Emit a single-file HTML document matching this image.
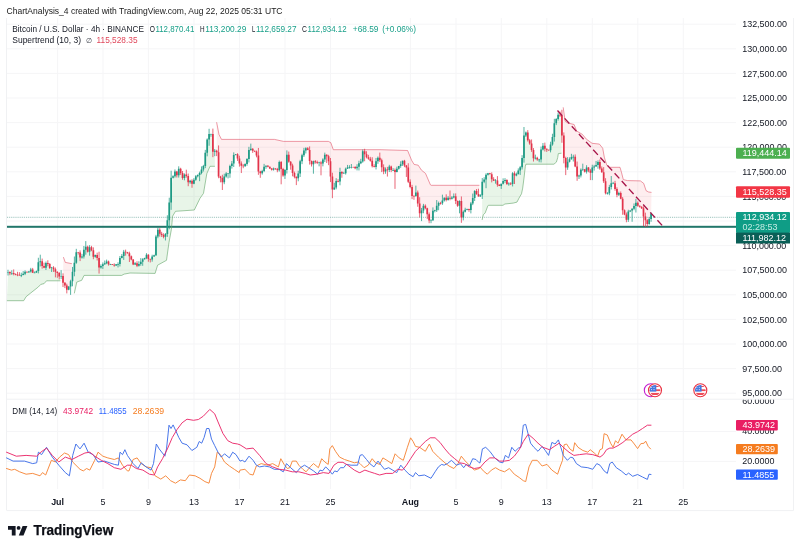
<!DOCTYPE html>
<html lang="en"><head><meta charset="utf-8"><title>BTCUSD chart</title>
<style>html,body{margin:0;padding:0;background:#fff;}body{width:800px;height:551px;overflow:hidden;position:relative;}</style></head>
<body>
<svg width="800" height="551" viewBox="0 0 800 551" style="position:absolute;left:0;top:0;display:block">
<rect x="0" y="0" width="800" height="551" fill="#ffffff"/>
<path d="M57.6 18V489M103.0 18V489M148.4 18V489M194.0 18V489M239.5 18V489M285.0 18V489M330.5 18V489M410.4 18V489M456.0 18V489M501.3 18V489M546.8 18V489M592.3 18V489M637.8 18V489M683.3 18V489M7 393.2H736M7 368.6H736M7 344.0H736M7 319.4H736M7 294.8H736M7 270.2H736M7 245.6H736M7 221.0H736M7 196.4H736M7 171.8H736M7 147.2H736M7 122.6H736M7 98.0H736M7 73.4H736M7 48.8H736M7 24.2H736M7 461.4H736M7 431.5H736" stroke="#f5f5f7" stroke-width="1" fill="none"/>
<path d="M7 399.2H793.5M7 510.6H793.5M793.5 18V510.6M6.5 18V510.6" stroke="#f0f1f3" stroke-width="1" fill="none"/>
<path d="M6.9 300.7 L23.7 300.7 L26.1 296.7 L30.2 293.4 L38.4 286.9 L40.8 284.4 L44.1 283.6 L46.5 280.8 L60.4 280.8 L59.2 275.3 L57.3 273.5 L55.4 271.4 L53.5 268.7 L51.6 268.6 L49.7 266.1 L47.8 263.4 L45.9 265.5 L44.0 266.2 L42.1 263.7 L40.2 261.2 L38.4 266.1 L36.5 271.8 L34.6 272.4 L32.7 270.8 L30.8 270.4 L28.9 271.8 L27.0 272.0 L25.1 272.7 L23.2 273.8 L21.3 275.0 L19.4 274.5 L17.5 274.4 L15.6 274.4 L13.7 273.0 L11.8 272.8 L9.9 272.9 L8.0 272.4Z" fill="rgba(76,175,80,0.13)" stroke="none"/>
<path d="M63.4 257.1 L65.3 262.4 L71.9 263.7 L70.6 285.6 L68.7 288.2 L66.8 288.1 L64.9 284.6 L63.0 279.8Z" fill="rgba(242,54,69,0.085)" stroke="none"/>
<path d="M74.3 293.4 L76.8 282.0 L81.7 280.3 L84.1 275.4 L121.7 275.4 L124.1 274.1 L130.0 273.0 L155.1 273.4 L157.6 265.2 L166.5 260.3 L169.0 242.4 L171.4 229.3 L172.6 216.2 L175.5 211.3 L194.3 210.0 L200.0 198.3 L203.5 193.3 L206.8 173.7 L210.0 166.3 L214.9 166.3 L214.8 151.9 L212.9 142.9 L211.0 134.6 L209.1 137.0 L207.2 146.7 L205.3 159.2 L203.4 168.0 L201.5 170.8 L199.6 175.2 L197.7 175.8 L195.8 178.0 L193.9 181.4 L192.0 182.9 L190.1 181.7 L188.2 179.5 L186.3 174.4 L184.4 176.5 L182.5 175.4 L180.6 171.1 L178.7 172.0 L176.8 173.8 L174.9 173.7 L173.0 176.9 L171.1 190.1 L169.2 212.4 L167.3 226.6 L165.5 236.0 L163.6 235.8 L161.7 234.4 L159.8 232.1 L157.9 233.0 L156.0 245.7 L154.1 255.9 L152.2 258.1 L150.3 259.8 L148.4 257.4 L146.5 256.3 L144.6 258.6 L142.7 261.2 L140.8 262.4 L138.9 264.4 L137.0 264.4 L135.1 263.7 L133.2 262.0 L131.3 257.9 L129.4 255.7 L127.5 252.7 L125.6 252.3 L123.7 254.3 L121.8 256.6 L119.9 261.1 L118.0 264.5 L116.1 264.9 L114.2 265.0 L112.3 264.5 L110.4 264.3 L108.5 263.0 L106.6 262.2 L104.7 263.3 L102.8 265.5 L101.0 266.7 L99.1 262.7 L97.2 256.5 L95.3 256.0 L93.4 253.4 L91.5 248.6 L89.6 249.9 L87.7 249.1 L85.8 248.0 L83.9 252.7 L82.0 256.6 L80.1 255.4 L78.2 252.8 L76.3 256.9 L74.4 266.8Z" fill="rgba(76,175,80,0.13)" stroke="none"/>
<path d="M216.6 122.2 L219.0 134.5 L221.5 139.4 L260.0 139.4 L274.5 139.4 L283.5 141.4 L328.4 141.4 L330.8 142.7 L333.3 149.7 L380.0 149.7 L407.6 150.5 L411.6 160.3 L414.1 164.4 L418.2 165.2 L421.4 170.1 L425.5 173.4 L430.4 184.8 L431.2 185.3 L479.4 185.3 L478.5 194.0 L476.6 192.2 L474.7 195.0 L472.8 200.0 L470.9 207.3 L469.0 209.9 L467.1 209.4 L465.2 210.4 L463.3 215.0 L461.4 209.5 L459.5 205.1 L457.6 203.5 L455.7 198.7 L453.8 196.4 L451.9 198.0 L450.0 196.8 L448.1 198.6 L446.2 198.3 L444.3 199.3 L442.4 200.8 L440.5 203.2 L438.6 205.2 L436.7 207.1 L434.8 210.8 L432.9 214.8 L431.0 220.8 L429.1 217.6 L427.2 212.3 L425.3 206.9 L423.4 208.3 L421.5 213.2 L419.6 207.9 L417.8 198.4 L415.9 192.8 L414.0 196.7 L412.1 191.7 L410.2 184.1 L408.3 173.9 L406.4 168.8 L404.5 163.4 L402.6 162.9 L400.7 164.8 L398.8 167.6 L396.9 170.0 L395.0 174.9 L393.1 169.8 L391.2 168.6 L389.3 168.3 L387.4 170.7 L385.5 170.6 L383.6 169.3 L381.7 164.6 L379.8 158.2 L377.9 159.8 L376.0 163.9 L374.1 166.3 L372.2 162.9 L370.3 159.5 L368.4 157.6 L366.5 155.2 L364.6 153.8 L362.7 156.2 L360.8 162.0 L358.9 165.3 L357.0 167.4 L355.2 167.7 L353.3 167.0 L351.4 166.7 L349.5 167.2 L347.6 167.6 L345.7 171.1 L343.8 173.0 L341.9 173.6 L340.0 176.6 L338.1 181.0 L336.2 184.0 L334.3 187.4 L332.4 184.2 L330.5 169.4 L328.6 159.4 L326.7 157.1 L324.8 157.2 L322.9 161.9 L321.0 165.7 L319.1 163.4 L317.2 162.5 L315.3 161.8 L313.4 165.0 L311.5 163.0 L309.6 155.5 L307.7 148.9 L305.8 149.8 L303.9 152.7 L302.0 158.6 L300.1 167.9 L298.2 175.9 L296.3 179.2 L294.4 175.0 L292.6 169.7 L290.7 164.5 L288.8 157.7 L286.9 162.2 L285.0 173.4 L283.1 172.3 L281.2 169.1 L279.3 166.1 L277.4 169.8 L275.5 168.9 L273.6 169.1 L271.7 169.2 L269.8 167.7 L267.9 166.3 L266.0 166.7 L264.1 168.4 L262.2 172.2 L260.3 173.3 L258.4 162.5 L256.5 153.7 L254.6 151.3 L252.7 150.1 L250.8 148.3 L248.9 154.6 L247.0 161.8 L245.1 165.1 L243.2 166.1 L241.3 165.9 L239.4 161.1 L237.5 156.8 L235.6 154.7 L233.7 159.5 L231.8 164.8 L229.9 170.5 L228.1 174.6 L226.2 175.0 L224.3 179.2 L222.4 181.3 L220.5 178.2 L218.6 163.1 L216.7 152.2Z" fill="rgba(242,54,69,0.085)" stroke="none"/>
<path d="M482.1 220.0 L483.3 214.8 L485.2 212.9 L487.8 205.9 L488.4 205.3 L503.0 205.3 L504.9 204.0 L513.2 203.1 L517.0 202.1 L518.9 198.3 L521.5 193.8 L522.7 188.1 L524.0 178.0 L525.3 166.5 L525.9 164.2 L553.9 164.2 L556.4 162.1 L557.7 157.6 L558.3 153.6 L561.5 153.2 L561.9 125.8 L560.0 114.7 L558.1 116.7 L556.2 121.3 L554.3 130.1 L552.4 140.3 L550.5 147.2 L548.6 150.0 L546.7 149.8 L544.9 147.2 L543.0 147.1 L541.1 154.5 L539.2 160.1 L537.3 158.7 L535.4 157.6 L533.5 154.5 L531.6 146.2 L529.7 141.9 L527.8 136.1 L525.9 134.1 L524.0 145.8 L522.1 162.5 L520.2 169.6 L518.3 171.8 L516.4 174.6 L514.5 176.0 L512.6 178.9 L510.7 183.7 L508.8 183.9 L506.9 182.0 L505.0 180.5 L503.1 181.9 L501.2 185.6 L499.3 185.3 L497.4 182.0 L495.5 180.9 L493.6 179.5 L491.7 177.1 L489.8 173.6 L487.9 174.2 L486.0 178.9 L484.1 180.4 L482.2 188.6Z" fill="rgba(76,175,80,0.13)" stroke="none"/>
<path d="M563.2 107.3 L565.1 121.2 L567.6 122.9 L574.1 124.5 L576.6 131.0 L582.3 134.3 L586.4 139.2 L592.1 143.3 L599.4 144.1 L602.7 148.2 L604.3 157.2 L606.8 165.3 L609.2 167.3 L620.0 167.3 L621.6 172.8 L623.3 179.6 L627.4 180.6 L640.4 180.9 L643.7 183.4 L646.1 190.7 L648.6 192.0 L651.5 192.4 L651.1 216.8 L649.2 221.2 L647.3 222.5 L645.4 219.1 L643.5 214.3 L641.6 207.6 L639.7 206.4 L637.8 204.1 L635.9 205.0 L634.0 207.1 L632.1 212.3 L630.2 211.1 L628.3 215.8 L626.4 217.3 L624.5 212.4 L622.6 205.2 L620.7 195.6 L618.8 193.9 L616.9 192.1 L615.0 186.0 L613.1 183.1 L611.2 183.9 L609.3 190.1 L607.5 193.3 L605.6 186.8 L603.7 175.9 L601.8 170.0 L599.9 165.0 L598.0 164.0 L596.1 164.8 L594.2 167.3 L592.3 171.2 L590.4 173.1 L588.5 169.3 L586.6 169.5 L584.7 170.6 L582.8 168.4 L580.9 172.8 L579.0 176.5 L577.1 171.4 L575.2 161.3 L573.3 157.6 L571.4 157.5 L569.5 160.2 L567.6 164.1 L565.7 164.3 L563.8 147.3Z" fill="rgba(242,54,69,0.085)" stroke="none"/>
<path d="M7 217.3H736" stroke="#5f9f94" stroke-width="0.8" stroke-dasharray="0.95 0.95" fill="none" opacity="0.85"/>
<rect x="7" y="225.8" width="729" height="2" fill="#21766a"/>
<path d="M6.9 300.7 L23.7 300.7 L26.1 296.7 L30.2 293.4 L38.4 286.9 L40.8 284.4 L44.1 283.6 L46.5 280.8 L60.4 280.8" fill="none" stroke="#62a568" stroke-width="0.6" stroke-linejoin="round"/>
<path d="M63.4 257.1 L65.3 262.4 L71.9 263.7" fill="none" stroke="#e0566a" stroke-width="0.6" stroke-linejoin="round"/>
<path d="M74.3 293.4 L76.8 282.0 L81.7 280.3 L84.1 275.4 L121.7 275.4 L124.1 274.1 L130.0 273.0 L155.1 273.4 L157.6 265.2 L166.5 260.3 L169.0 242.4 L171.4 229.3 L172.6 216.2 L175.5 211.3 L194.3 210.0 L200.0 198.3 L203.5 193.3 L206.8 173.7 L210.0 166.3 L214.9 166.3" fill="none" stroke="#62a568" stroke-width="0.6" stroke-linejoin="round"/>
<path d="M216.6 122.2 L219.0 134.5 L221.5 139.4 L260.0 139.4 L274.5 139.4 L283.5 141.4 L328.4 141.4 L330.8 142.7 L333.3 149.7 L380.0 149.7 L407.6 150.5 L411.6 160.3 L414.1 164.4 L418.2 165.2 L421.4 170.1 L425.5 173.4 L430.4 184.8 L431.2 185.3 L479.4 185.3" fill="none" stroke="#e0566a" stroke-width="0.6" stroke-linejoin="round"/>
<path d="M482.1 220.0 L483.3 214.8 L485.2 212.9 L487.8 205.9 L488.4 205.3 L503.0 205.3 L504.9 204.0 L513.2 203.1 L517.0 202.1 L518.9 198.3 L521.5 193.8 L522.7 188.1 L524.0 178.0 L525.3 166.5 L525.9 164.2 L553.9 164.2 L556.4 162.1 L557.7 157.6 L558.3 153.6 L561.5 153.2" fill="none" stroke="#62a568" stroke-width="0.6" stroke-linejoin="round"/>
<path d="M563.2 107.3 L565.1 121.2 L567.6 122.9 L574.1 124.5 L576.6 131.0 L582.3 134.3 L586.4 139.2 L592.1 143.3 L599.4 144.1 L602.7 148.2 L604.3 157.2 L606.8 165.3 L609.2 167.3 L620.0 167.3 L621.6 172.8 L623.3 179.6 L627.4 180.6 L640.4 180.9 L643.7 183.4 L646.1 190.7 L648.6 192.0 L651.5 192.4" fill="none" stroke="#e0566a" stroke-width="0.6" stroke-linejoin="round"/>
<path d="M8.00 269.79V275.50M11.79 270.23V274.92M21.28 272.70V277.14M23.18 271.07V275.28M25.07 270.33V275.12M28.87 270.92V272.96M30.76 267.86V272.55M34.56 271.48V272.75M36.45 270.60V272.99M38.35 257.78V273.37M40.25 254.70V266.42M45.94 261.56V269.99M51.63 266.93V271.99M61.12 270.11V279.06M68.70 286.26V290.24M70.60 279.78V294.87M72.50 266.93V286.31M74.39 256.50V276.27M76.29 248.83V263.79M81.98 253.85V258.63M83.88 245.97V258.54M85.78 241.10V254.69M89.57 245.15V255.66M95.26 254.56V257.68M100.95 264.34V268.67M102.85 262.45V268.96M104.75 260.54V264.95M106.64 259.61V264.18M110.44 263.81V264.75M116.13 263.99V265.96M118.03 262.29V267.45M119.92 256.03V266.45M121.82 254.04V258.35M123.72 249.92V259.93M135.10 262.10V265.00M138.89 261.22V266.57M140.79 258.14V265.76M142.69 258.17V265.81M144.58 257.74V259.64M146.48 253.17V259.13M152.17 254.72V261.70M154.07 254.71V256.88M155.97 234.84V255.94M157.86 227.71V238.23M165.45 233.02V240.46M167.35 215.28V236.86M169.25 197.71V229.28M171.14 170.68V209.85M173.04 175.25V178.47M174.94 169.43V177.60M178.73 166.30V177.59M184.42 173.39V180.32M190.11 179.81V183.75M193.91 178.09V184.25M195.80 175.08V180.80M197.70 174.39V177.37M199.60 171.63V181.16M201.49 166.39V174.28M203.39 164.85V171.49M205.29 149.89V168.12M207.19 138.39V156.31M209.08 128.80V145.75M210.98 133.70V136.76M214.77 148.95V156.17M224.26 173.70V184.19M226.16 172.10V177.62M228.05 173.06V178.42M229.95 164.70V177.74M231.85 160.98V168.59M233.74 152.38V167.02M235.64 154.11V155.33M245.12 163.34V166.73M247.02 158.17V165.74M248.92 146.82V162.44M250.82 143.64V150.83M262.20 169.80V174.67M264.10 163.86V172.10M265.99 165.44V168.83M273.58 167.57V170.63M279.27 160.58V171.59M284.96 169.09V178.96M286.86 150.39V173.56M298.24 170.72V181.28M300.14 159.80V176.99M302.04 153.70V164.14M303.93 147.85V156.99M305.83 147.24V153.47M313.42 160.63V173.70M319.11 161.80V166.33M322.90 158.28V166.34M324.80 152.63V162.02M334.28 182.81V189.81M336.18 178.16V189.30M339.98 167.72V185.29M343.77 171.90V173.66M345.67 167.60V174.58M347.56 164.93V168.98M349.46 165.24V168.61M351.36 164.02V168.49M357.05 164.24V170.42M358.94 160.74V170.48M360.84 158.83V164.15M362.74 149.53V162.68M376.02 157.96V169.45M377.92 156.47V163.87M385.50 167.44V173.74M389.30 164.82V172.05M393.09 168.13V170.80M396.88 166.66V172.39M398.78 165.93V169.66M400.68 161.30V167.81M402.58 160.68V165.92M415.86 185.60V196.81M421.55 207.94V221.10M423.44 203.89V213.26M431.03 219.18V223.20M432.93 207.38V220.94M434.82 209.79V212.34M436.72 200.07V211.99M438.62 201.62V210.22M442.41 194.66V204.85M444.31 197.36V201.57M448.10 196.10V200.62M451.90 196.08V199.52M453.80 193.44V198.45M459.49 200.32V213.32M463.28 210.45V220.37M465.18 207.72V212.46M467.07 208.69V210.28M470.87 202.04V213.38M472.76 193.55V205.12M474.66 190.15V201.01M480.35 194.20V196.83M482.25 178.04V199.01M484.15 177.21V183.16M486.04 173.29V188.19M487.94 172.88V175.54M495.53 179.07V183.65M501.22 183.72V188.95M503.12 178.34V184.43M505.01 178.14V182.87M508.81 182.24V185.74M512.60 172.11V186.45M516.40 172.57V176.29M518.29 168.38V174.62M520.19 165.94V174.95M522.09 155.15V169.52M523.98 127.00V162.65M525.88 131.54V136.99M535.37 154.63V159.47M539.16 158.83V162.26M541.06 146.57V162.46M542.95 143.02V150.42M550.54 141.72V152.38M552.44 133.76V145.73M554.34 118.81V141.56M556.23 118.16V125.13M558.13 112.51V120.61M567.62 157.15V169.82M569.51 157.33V162.42M571.41 153.81V159.68M573.31 154.71V161.53M579.00 174.71V179.00M580.89 168.44V177.44M582.79 163.67V170.98M586.59 165.21V173.57M592.28 164.74V180.15M594.17 164.85V170.62M596.07 160.93V166.73M597.97 160.40V168.69M607.45 192.09V194.57M609.35 184.86V195.23M611.25 176.00V189.46M613.14 181.89V184.15M618.83 191.72V196.03M628.32 209.79V221.93M630.22 210.26V212.10M632.11 208.27V221.80M634.01 203.44V210.21M635.91 198.82V212.52M649.19 217.12V224.76M651.08 212.57V221.81" stroke="#1e9a84" stroke-width="0.75" fill="none"/>
<path d="M9.90 271.33V275.17M13.69 269.41V275.36M15.59 273.38V275.31M17.48 271.82V276.18M19.38 272.19V275.55M26.97 271.55V273.03M32.66 267.92V273.03M42.15 258.57V268.67M44.04 262.69V268.17M47.84 260.29V266.21M49.73 263.04V269.01M53.53 266.17V271.91M55.42 267.56V277.36M57.32 271.34V277.81M59.22 271.94V279.38M63.01 273.33V287.04M64.91 282.06V288.12M66.81 283.70V293.40M78.19 251.95V254.54M80.09 250.36V261.09M87.67 245.63V252.55M91.47 245.83V251.21M93.36 247.37V259.24M97.16 252.63V260.46M99.06 251.70V273.59M108.54 260.64V265.63M112.34 264.06V264.93M114.23 263.33V266.68M125.61 249.64V255.65M127.51 251.88V253.65M129.41 251.68V261.99M131.31 255.50V260.31M133.20 259.05V265.09M137.00 261.28V267.10M148.38 254.17V261.74M150.28 258.57V262.46M159.76 228.18V236.68M161.66 231.81V237.00M163.55 233.29V238.34M176.83 170.82V177.53M180.63 167.77V174.90M182.52 170.97V179.76M186.32 169.70V177.62M188.22 173.54V186.21M192.01 179.26V187.76M212.88 128.62V157.18M216.67 149.75V156.10M218.57 145.42V178.22M220.46 175.83V182.35M222.36 174.72V190.00M237.54 153.21V160.94M239.43 155.74V166.61M241.33 161.40V173.04M243.23 164.20V168.22M252.71 148.15V152.92M254.61 150.72V152.08M256.51 150.51V157.33M258.40 147.96V174.83M260.30 170.80V177.80M267.89 165.09V167.36M269.79 166.59V169.02M271.68 168.10V170.60M275.48 168.19V169.89M277.37 167.86V172.24M281.17 161.02V184.30M283.06 167.82V176.75M288.76 151.59V162.80M290.65 161.04V169.71M292.55 163.68V176.30M294.45 171.60V178.35M296.34 176.46V185.10M307.73 147.12V150.25M309.62 146.40V164.60M311.52 160.52V166.51M315.31 160.06V163.67M317.21 160.63V164.09M321.00 161.28V175.30M326.70 154.27V163.05M328.59 154.80V165.15M330.49 157.97V182.09M332.39 172.72V198.20M338.08 179.18V182.29M341.87 171.17V177.74M353.25 166.75V167.18M355.15 166.16V169.21M364.64 148.80V161.25M366.53 151.22V158.40M368.43 154.83V159.80M370.33 156.85V161.65M372.22 157.20V167.48M374.12 164.29V167.38M379.81 152.60V161.98M381.71 158.65V172.10M383.61 164.35V174.22M387.40 166.89V176.57M391.19 165.64V172.15M394.99 168.55V188.90M404.47 159.87V167.18M406.37 164.98V176.95M408.27 163.25V183.08M410.16 179.36V188.29M412.06 184.85V199.12M413.96 195.08V199.83M417.75 190.55V206.77M419.65 197.21V217.56M425.34 204.36V209.34M427.24 207.73V219.09M429.13 212.52V223.22M440.52 201.86V204.56M446.21 194.32V201.42M450.00 190.50V200.27M455.69 193.40V204.07M457.59 200.51V206.87M461.38 196.44V222.84M468.97 208.71V211.75M476.56 189.04V194.88M478.46 188.73V196.65M489.84 172.85V174.26M491.74 172.38V182.38M493.63 177.23V180.93M497.43 176.12V186.73M499.32 184.22V186.09M506.91 179.23V185.02M510.70 182.23V185.06M514.50 171.37V184.01M527.78 130.11V141.57M529.67 138.91V144.81M531.57 139.44V151.86M533.47 148.07V161.55M537.26 156.75V160.78M544.85 142.63V151.44M546.75 148.53V151.90M548.64 149.70V150.34M560.03 111.64V116.98M561.92 109.75V142.78M563.82 132.42V163.35M565.72 156.73V175.10M575.20 154.42V167.21M577.10 161.54V180.80M584.69 169.03V172.55M588.48 167.01V172.23M590.38 168.95V180.10M599.86 159.48V169.85M601.76 166.48V172.74M603.66 167.11V182.97M605.55 178.18V194.43M615.04 180.89V190.78M616.94 187.29V197.25M620.73 191.47V199.29M622.63 197.08V214.77M624.52 209.43V215.23M626.42 212.51V222.28M637.80 201.38V206.80M639.70 205.48V207.64M641.60 206.31V209.00M643.50 206.37V226.09M645.39 212.66V226.95M647.29 219.09V226.62" stroke="#e2334a" stroke-width="0.75" fill="none"/>
<path d="M7.15 272.00h1.7V272.60h-1.7zM10.94 272.96h1.7V273.56h-1.7zM20.43 275.05h1.7V275.65h-1.7zM22.33 273.86h1.7V275.05h-1.7zM24.22 271.63h1.7V273.86h-1.7zM28.02 271.56h1.7V272.16h-1.7zM29.91 269.60h1.7V271.56h-1.7zM33.71 272.57h1.7V273.17h-1.7zM35.60 270.98h1.7V272.57h-1.7zM37.50 262.14h1.7V270.98h-1.7zM39.40 261.37h1.7V262.14h-1.7zM45.09 262.90h1.7V267.70h-1.7zM50.78 267.40h1.7V268.11h-1.7zM60.27 276.02h1.7V276.62h-1.7zM67.85 286.62h1.7V289.75h-1.7zM69.75 281.22h1.7V286.62h-1.7zM71.65 271.65h1.7V281.22h-1.7zM73.55 262.67h1.7V271.65h-1.7zM75.44 252.17h1.7V262.67h-1.7zM81.13 256.48h1.7V257.59h-1.7zM83.03 249.72h1.7V256.48h-1.7zM84.93 246.63h1.7V249.72h-1.7zM88.72 247.14h1.7V251.64h-1.7zM94.41 255.01h1.7V256.70h-1.7zM100.10 266.04h1.7V267.57h-1.7zM102.00 264.37h1.7V266.04h-1.7zM103.90 263.25h1.7V264.37h-1.7zM105.79 261.58h1.7V263.25h-1.7zM109.59 264.29h1.7V264.89h-1.7zM115.28 264.28h1.7V265.41h-1.7zM117.18 264.11h1.7V264.71h-1.7zM119.07 257.95h1.7V264.11h-1.7zM120.97 255.90h1.7V257.95h-1.7zM122.87 251.65h1.7V255.90h-1.7zM134.25 263.29h1.7V264.46h-1.7zM138.04 263.88h1.7V265.85h-1.7zM139.94 261.63h1.7V263.88h-1.7zM141.84 259.18h1.7V261.63h-1.7zM143.73 258.03h1.7V259.18h-1.7zM145.63 254.79h1.7V258.03h-1.7zM151.32 256.59h1.7V259.40h-1.7zM153.22 255.31h1.7V256.59h-1.7zM155.12 236.56h1.7V255.31h-1.7zM157.01 229.68h1.7V236.56h-1.7zM164.60 233.92h1.7V236.74h-1.7zM166.50 220.30h1.7V233.92h-1.7zM168.40 202.43h1.7V220.30h-1.7zM170.29 177.64h1.7V202.43h-1.7zM172.19 176.22h1.7V177.64h-1.7zM174.09 171.60h1.7V176.22h-1.7zM177.88 168.69h1.7V175.36h-1.7zM183.57 174.44h1.7V177.88h-1.7zM189.26 180.84h1.7V182.30h-1.7zM193.06 179.73h1.7V183.72h-1.7zM194.95 176.31h1.7V179.73h-1.7zM196.85 174.96h1.7V176.31h-1.7zM198.75 172.93h1.7V174.96h-1.7zM200.64 169.48h1.7V172.93h-1.7zM202.54 166.03h1.7V169.48h-1.7zM204.44 152.69h1.7V166.03h-1.7zM206.34 139.44h1.7V152.69h-1.7zM208.23 134.00h1.7V139.44h-1.7zM210.13 133.99h1.7V134.59h-1.7zM213.92 150.66h1.7V151.64h-1.7zM223.41 176.55h1.7V182.26h-1.7zM225.31 173.55h1.7V176.55h-1.7zM227.20 173.52h1.7V174.12h-1.7zM229.10 165.98h1.7V173.52h-1.7zM231.00 163.57h1.7V165.98h-1.7zM232.89 154.98h1.7V163.57h-1.7zM234.79 154.31h1.7V154.98h-1.7zM244.28 164.07h1.7V166.20h-1.7zM246.17 159.05h1.7V164.07h-1.7zM248.07 150.04h1.7V159.05h-1.7zM249.97 148.69h1.7V150.04h-1.7zM261.35 170.97h1.7V173.21h-1.7zM263.25 166.72h1.7V170.97h-1.7zM265.14 165.85h1.7V166.72h-1.7zM272.73 168.41h1.7V169.86h-1.7zM278.42 162.01h1.7V170.19h-1.7zM284.11 170.02h1.7V175.61h-1.7zM286.01 154.82h1.7V170.02h-1.7zM297.39 173.47h1.7V178.32h-1.7zM299.29 161.14h1.7V173.47h-1.7zM301.19 155.37h1.7V161.14h-1.7zM303.08 150.42h1.7V155.37h-1.7zM304.98 148.24h1.7V150.42h-1.7zM312.57 161.30h1.7V164.18h-1.7zM318.26 162.49h1.7V163.09h-1.7zM322.05 159.55h1.7V163.56h-1.7zM323.95 154.78h1.7V159.55h-1.7zM333.43 187.60h1.7V189.51h-1.7zM335.33 181.03h1.7V187.60h-1.7zM339.12 171.94h1.7V181.46h-1.7zM342.92 173.23h1.7V173.83h-1.7zM344.82 168.84h1.7V173.23h-1.7zM346.71 167.59h1.7V168.84h-1.7zM348.61 167.34h1.7V167.94h-1.7zM350.51 166.94h1.7V167.54h-1.7zM356.20 166.66h1.7V168.36h-1.7zM358.09 163.22h1.7V166.66h-1.7zM359.99 161.62h1.7V163.22h-1.7zM361.89 151.16h1.7V161.62h-1.7zM375.17 161.29h1.7V167.02h-1.7zM377.06 157.76h1.7V161.29h-1.7zM384.65 169.53h1.7V171.55h-1.7zM388.45 166.52h1.7V169.97h-1.7zM392.24 170.08h1.7V170.68h-1.7zM396.03 168.86h1.7V172.07h-1.7zM397.93 166.10h1.7V168.86h-1.7zM399.83 164.13h1.7V166.10h-1.7zM401.73 160.84h1.7V164.13h-1.7zM415.00 192.62h1.7V196.06h-1.7zM420.70 210.49h1.7V213.21h-1.7zM422.59 205.69h1.7V210.49h-1.7zM430.18 220.17h1.7V220.77h-1.7zM432.08 210.84h1.7V220.17h-1.7zM433.97 210.33h1.7V210.93h-1.7zM435.87 205.83h1.7V210.33h-1.7zM437.77 203.10h1.7V205.83h-1.7zM441.56 200.50h1.7V203.18h-1.7zM443.46 197.69h1.7V200.50h-1.7zM447.25 197.67h1.7V199.88h-1.7zM451.05 197.42h1.7V198.84h-1.7zM452.94 196.36h1.7V197.42h-1.7zM458.64 201.09h1.7V205.75h-1.7zM462.43 211.73h1.7V217.44h-1.7zM464.33 209.63h1.7V211.73h-1.7zM466.22 208.93h1.7V209.63h-1.7zM470.02 203.57h1.7V210.02h-1.7zM471.91 197.88h1.7V203.57h-1.7zM473.81 190.96h1.7V197.88h-1.7zM479.50 195.35h1.7V196.38h-1.7zM481.40 181.82h1.7V195.35h-1.7zM483.30 179.43h1.7V181.82h-1.7zM485.19 174.86h1.7V179.43h-1.7zM487.09 173.35h1.7V174.86h-1.7zM494.68 180.40h1.7V181.00h-1.7zM500.37 183.75h1.7V185.94h-1.7zM502.27 180.97h1.7V183.75h-1.7zM504.16 179.89h1.7V180.97h-1.7zM507.96 183.59h1.7V184.19h-1.7zM511.75 173.13h1.7V183.93h-1.7zM515.55 173.88h1.7V175.50h-1.7zM517.44 170.45h1.7V173.88h-1.7zM519.34 167.18h1.7V170.45h-1.7zM521.24 158.11h1.7V167.18h-1.7zM523.13 135.55h1.7V158.11h-1.7zM525.03 132.46h1.7V135.55h-1.7zM534.52 157.82h1.7V158.42h-1.7zM538.31 159.60h1.7V160.20h-1.7zM540.21 149.39h1.7V159.60h-1.7zM542.10 145.73h1.7V149.39h-1.7zM549.69 144.55h1.7V150.18h-1.7zM551.59 137.07h1.7V144.55h-1.7zM553.49 123.15h1.7V137.07h-1.7zM555.38 118.90h1.7V123.15h-1.7zM557.28 114.79h1.7V118.90h-1.7zM566.76 161.76h1.7V167.50h-1.7zM568.66 159.21h1.7V161.76h-1.7zM570.56 157.10h1.7V159.21h-1.7zM572.46 156.86h1.7V157.46h-1.7zM578.15 175.57h1.7V176.61h-1.7zM580.04 169.82h1.7V175.57h-1.7zM581.94 169.15h1.7V169.82h-1.7zM585.74 167.49h1.7V171.67h-1.7zM591.43 167.39h1.7V172.67h-1.7zM593.32 166.44h1.7V167.39h-1.7zM595.22 164.95h1.7V166.44h-1.7zM597.12 162.02h1.7V164.95h-1.7zM606.60 193.30h1.7V193.90h-1.7zM608.50 186.95h1.7V193.30h-1.7zM610.40 183.32h1.7V186.95h-1.7zM612.29 183.20h1.7V183.80h-1.7zM617.98 192.93h1.7V194.83h-1.7zM627.47 211.59h1.7V219.84h-1.7zM629.37 210.38h1.7V211.59h-1.7zM631.26 208.76h1.7V210.38h-1.7zM633.16 205.95h1.7V208.76h-1.7zM635.06 202.63h1.7V205.95h-1.7zM648.34 219.12h1.7V223.92h-1.7zM650.23 213.60h1.7V219.12h-1.7z" fill="#1e9a84"/>
<path d="M9.05 272.00h1.7V273.26h-1.7zM12.84 272.96h1.7V274.12h-1.7zM14.74 274.12h1.7V274.72h-1.7zM16.63 274.68h1.7V275.28h-1.7zM18.53 274.85h1.7V275.45h-1.7zM26.12 271.63h1.7V272.23h-1.7zM31.81 269.60h1.7V272.74h-1.7zM41.30 261.37h1.7V266.11h-1.7zM43.19 266.11h1.7V267.70h-1.7zM46.99 262.90h1.7V264.12h-1.7zM48.88 264.12h1.7V268.11h-1.7zM52.68 267.40h1.7V269.13h-1.7zM54.57 269.13h1.7V271.64h-1.7zM56.47 271.64h1.7V273.10h-1.7zM58.37 273.10h1.7V276.59h-1.7zM62.16 276.02h1.7V282.70h-1.7zM64.06 282.70h1.7V285.62h-1.7zM65.96 285.62h1.7V289.75h-1.7zM77.34 252.17h1.7V252.77h-1.7zM79.24 252.59h1.7V257.59h-1.7zM86.82 246.63h1.7V251.64h-1.7zM90.62 247.14h1.7V250.20h-1.7zM92.52 250.20h1.7V256.70h-1.7zM96.31 255.01h1.7V257.90h-1.7zM98.21 257.90h1.7V267.57h-1.7zM107.69 261.58h1.7V264.34h-1.7zM111.49 264.29h1.7V264.89h-1.7zM113.38 264.73h1.7V265.41h-1.7zM124.76 251.65h1.7V252.25h-1.7zM126.66 252.22h1.7V253.13h-1.7zM128.56 253.13h1.7V256.18h-1.7zM130.46 256.18h1.7V259.53h-1.7zM132.35 259.53h1.7V264.46h-1.7zM136.15 263.29h1.7V265.85h-1.7zM147.53 254.79h1.7V258.90h-1.7zM149.43 258.90h1.7V259.50h-1.7zM158.91 229.68h1.7V233.72h-1.7zM160.81 233.72h1.7V235.02h-1.7zM162.70 235.02h1.7V236.74h-1.7zM175.98 171.60h1.7V175.36h-1.7zM179.78 168.69h1.7V172.96h-1.7zM181.67 172.96h1.7V177.88h-1.7zM185.47 174.44h1.7V175.94h-1.7zM187.37 175.94h1.7V182.30h-1.7zM191.16 180.84h1.7V183.72h-1.7zM212.03 133.99h1.7V151.64h-1.7zM215.82 150.66h1.7V152.34h-1.7zM217.72 152.34h1.7V176.41h-1.7zM219.61 176.41h1.7V178.07h-1.7zM221.51 178.07h1.7V182.26h-1.7zM236.69 154.31h1.7V158.59h-1.7zM238.58 158.59h1.7V163.57h-1.7zM240.48 163.57h1.7V165.64h-1.7zM242.38 165.64h1.7V166.24h-1.7zM251.86 148.69h1.7V150.84h-1.7zM253.76 150.84h1.7V151.49h-1.7zM255.66 151.49h1.7V155.57h-1.7zM257.55 155.57h1.7V171.51h-1.7zM259.45 171.51h1.7V173.21h-1.7zM267.04 165.85h1.7V166.85h-1.7zM268.94 166.85h1.7V168.40h-1.7zM270.83 168.40h1.7V169.86h-1.7zM274.63 168.41h1.7V169.01h-1.7zM276.52 168.99h1.7V170.19h-1.7zM280.32 162.01h1.7V168.94h-1.7zM282.21 168.94h1.7V175.61h-1.7zM287.91 154.82h1.7V161.64h-1.7zM289.80 161.64h1.7V165.62h-1.7zM291.70 165.62h1.7V173.09h-1.7zM293.60 173.09h1.7V176.82h-1.7zM295.49 176.82h1.7V178.32h-1.7zM306.88 148.24h1.7V150.02h-1.7zM308.77 150.02h1.7V160.90h-1.7zM310.67 160.90h1.7V164.18h-1.7zM314.46 161.30h1.7V162.19h-1.7zM316.36 162.19h1.7V162.98h-1.7zM320.15 162.49h1.7V163.56h-1.7zM325.85 154.78h1.7V156.32h-1.7zM327.74 156.32h1.7V161.27h-1.7zM329.64 161.27h1.7V176.44h-1.7zM331.54 176.44h1.7V189.51h-1.7zM337.23 181.03h1.7V181.63h-1.7zM341.02 171.94h1.7V173.38h-1.7zM352.40 166.94h1.7V167.54h-1.7zM354.30 166.97h1.7V168.36h-1.7zM363.79 151.16h1.7V154.16h-1.7zM365.68 154.16h1.7V157.16h-1.7zM367.58 157.16h1.7V158.75h-1.7zM369.48 158.75h1.7V160.75h-1.7zM371.37 160.75h1.7V166.37h-1.7zM373.27 166.37h1.7V167.02h-1.7zM378.96 157.76h1.7V160.27h-1.7zM380.86 160.27h1.7V167.20h-1.7zM382.76 167.20h1.7V171.55h-1.7zM386.55 169.53h1.7V170.13h-1.7zM390.34 166.52h1.7V170.10h-1.7zM394.14 170.08h1.7V172.07h-1.7zM403.62 160.84h1.7V165.52h-1.7zM405.52 165.52h1.7V167.56h-1.7zM407.42 167.56h1.7V181.71h-1.7zM409.31 181.71h1.7V187.03h-1.7zM411.21 187.03h1.7V195.97h-1.7zM413.11 195.97h1.7V196.57h-1.7zM416.90 192.62h1.7V203.48h-1.7zM418.80 203.48h1.7V213.21h-1.7zM424.49 205.69h1.7V208.17h-1.7zM426.39 208.17h1.7V214.27h-1.7zM428.28 214.27h1.7V220.55h-1.7zM439.67 203.10h1.7V203.70h-1.7zM445.36 197.69h1.7V199.88h-1.7zM449.15 197.67h1.7V198.84h-1.7zM454.84 196.36h1.7V201.01h-1.7zM456.74 201.01h1.7V205.75h-1.7zM460.53 201.09h1.7V217.44h-1.7zM468.12 208.93h1.7V210.02h-1.7zM475.71 190.96h1.7V194.07h-1.7zM477.61 194.07h1.7V196.38h-1.7zM488.99 173.35h1.7V174.14h-1.7zM490.88 174.14h1.7V179.35h-1.7zM492.78 179.35h1.7V180.67h-1.7zM496.58 180.40h1.7V184.85h-1.7zM498.47 184.85h1.7V185.94h-1.7zM506.06 179.89h1.7V184.05h-1.7zM509.85 183.59h1.7V184.19h-1.7zM513.65 173.13h1.7V175.50h-1.7zM526.93 132.46h1.7V140.22h-1.7zM528.82 140.22h1.7V143.54h-1.7zM530.72 143.54h1.7V149.89h-1.7zM532.62 149.89h1.7V158.29h-1.7zM536.41 157.82h1.7V159.62h-1.7zM544.00 145.73h1.7V148.87h-1.7zM545.90 148.87h1.7V149.87h-1.7zM547.79 149.87h1.7V150.47h-1.7zM559.18 114.79h1.7V115.41h-1.7zM561.07 115.41h1.7V135.45h-1.7zM562.97 135.45h1.7V157.89h-1.7zM564.87 157.89h1.7V167.50h-1.7zM574.35 156.86h1.7V166.54h-1.7zM576.25 166.54h1.7V176.61h-1.7zM583.84 169.15h1.7V171.67h-1.7zM587.63 167.49h1.7V170.52h-1.7zM589.53 170.52h1.7V172.67h-1.7zM599.01 162.02h1.7V168.49h-1.7zM600.91 168.49h1.7V172.33h-1.7zM602.81 172.33h1.7V181.25h-1.7zM604.70 181.25h1.7V193.32h-1.7zM614.19 183.20h1.7V188.98h-1.7zM616.09 188.98h1.7V194.83h-1.7zM619.88 192.93h1.7V198.75h-1.7zM621.78 198.75h1.7V210.33h-1.7zM623.67 210.33h1.7V214.54h-1.7zM625.57 214.54h1.7V219.84h-1.7zM636.95 202.63h1.7V205.71h-1.7zM638.85 205.71h1.7V206.83h-1.7zM640.75 206.83h1.7V208.15h-1.7zM642.64 208.15h1.7V216.47h-1.7zM644.54 216.47h1.7V220.29h-1.7zM646.44 220.29h1.7V223.92h-1.7z" fill="#e2334a"/>
<path d="M557.5 110.5L662.5 225.8" stroke="#a8164a" stroke-width="1.35" stroke-dasharray="7 3.6" fill="none"/>
<path d="M6.5 468.5 L11.4 470.1 L14.7 469.3 L19.6 471.8 L26.1 474.2 L32.7 473.4 L40.0 475.8 L42.5 472.6 L45.7 475.0 L51.4 460.3 L55.5 462.0 L59.6 457.1 L64.5 453.0 L68.6 454.6 L72.7 462.0 L80.0 469.3 L83.3 470.9 L86.6 468.5 L89.8 470.1 L94.7 460.3 L98.0 452.2 L102.9 456.2 L107.8 457.9 L114.3 459.5 L118.4 457.9 L122.5 465.2 L127.4 470.9 L129.0 470.9 L133.1 459.5 L137.1 457.9 L141.2 463.6 L146.1 466.9 L151.0 467.7 L155.1 475.8 L160.8 479.1 L165.7 475.8 L170.6 480.7 L175.5 483.2 L180.4 479.9 L185.3 480.7 L189.4 475.0 L195.1 475.8 L200.0 478.3 L204.9 481.6 L209.0 483.2 L211.5 473.4 L214.7 466.9 L217.2 452.2 L220.4 454.6 L224.5 462.0 L229.4 466.0 L234.3 469.3 L239.2 472.6 L240.0 470.1 L244.9 469.3 L249.8 474.2 L253.1 475.0 L256.3 466.0 L261.2 463.6 L267.8 465.2 L272.7 463.6 L278.4 466.9 L280.8 458.7 L284.1 464.4 L287.4 468.5 L289.8 467.7 L292.3 461.1 L296.3 461.1 L298.8 465.2 L302.9 469.3 L306.1 471.8 L310.2 466.9 L313.5 463.6 L318.4 467.7 L321.7 458.7 L324.9 462.0 L328.2 464.4 L329.8 448.9 L332.3 445.6 L335.5 451.3 L339.6 457.1 L344.5 459.5 L349.4 461.1 L354.3 462.8 L358.4 462.0 L360.0 463.6 L364.1 467.7 L368.2 465.2 L372.2 458.7 L375.5 462.8 L379.6 464.4 L382.9 457.9 L386.9 460.3 L391.8 463.6 L395.1 453.8 L399.2 457.9 L403.3 460.3 L407.4 447.3 L410.6 437.8 L413.1 441.5 L415.5 446.4 L419.6 447.3 L425.3 451.3 L429.4 444.0 L432.7 451.3 L438.4 457.1 L444.9 462.8 L449.0 466.0 L453.9 468.5 L458.0 463.6 L461.3 456.2 L465.3 461.1 L469.4 465.2 L474.3 470.1 L479.2 468.5 L480.0 466.9 L483.3 470.9 L487.3 474.2 L491.4 470.1 L495.5 467.7 L499.6 470.1 L504.5 471.8 L509.4 468.5 L514.3 474.2 L519.2 477.5 L523.3 480.7 L525.7 481.6 L529.0 466.9 L532.3 460.3 L537.2 460.3 L542.1 466.0 L547.0 464.4 L551.9 470.1 L557.6 474.2 L560.0 466.9 L562.5 460.3 L564.1 444.8 L566.6 444.0 L569.8 448.9 L573.1 451.3 L574.7 442.7 L578.0 447.3 L582.9 450.5 L587.8 452.2 L590.2 449.7 L594.3 453.0 L597.6 456.2 L600.0 449.7 L602.4 448.6 L604.1 433.7 L607.3 435.0 L610.6 443.2 L613.1 447.3 L615.5 440.7 L618.0 443.2 L622.0 434.2 L626.1 439.9 L631.0 439.9 L634.3 444.0 L637.6 448.6 L640.8 443.7 L644.1 443.2 L645.7 441.1 L648.2 446.4 L650.6 448.9" fill="none" stroke="#f5873a" stroke-width="0.95" stroke-linejoin="round" stroke-linecap="round"/>
<path d="M6.5 457.9 L13.1 461.1 L24.5 461.1 L32.7 463.6 L36.7 462.8 L38.4 452.2 L41.6 454.6 L46.5 447.3 L52.3 457.1 L58.8 465.2 L65.3 472.6 L69.4 475.8 L72.7 455.4 L75.9 444.0 L80.0 448.9 L84.1 443.2 L88.2 452.2 L93.1 454.6 L98.0 462.0 L104.5 461.1 L114.3 464.4 L118.4 465.2 L120.0 452.2 L122.5 454.6 L124.9 449.7 L127.4 455.4 L133.1 463.6 L138.0 468.5 L141.2 462.8 L146.1 466.9 L151.0 470.1 L153.5 463.6 L156.3 444.0 L159.2 448.9 L164.9 456.2 L166.5 448.9 L169.0 425.2 L171.0 428.5 L173.1 424.9 L175.5 430.1 L178.8 437.5 L182.1 443.2 L187.0 444.8 L191.9 450.5 L196.8 447.3 L199.2 441.5 L201.7 443.2 L204.1 437.5 L206.6 428.5 L209.0 428.5 L211.5 439.1 L214.7 445.6 L218.0 452.2 L221.3 457.1 L224.5 453.8 L229.4 457.9 L232.7 452.2 L236.0 454.6 L240.0 461.1 L242.4 460.3 L244.9 462.0 L249.0 456.2 L253.1 460.3 L256.3 465.2 L259.6 466.9 L264.5 466.0 L269.4 466.9 L274.3 469.3 L279.2 469.3 L283.3 471.8 L286.5 463.6 L290.6 467.7 L296.3 472.6 L300.4 467.7 L304.5 465.2 L308.6 467.7 L313.5 470.9 L317.6 474.2 L320.0 470.1 L322.5 470.9 L325.7 466.9 L329.0 470.1 L332.3 474.2 L334.7 470.9 L337.2 471.8 L340.4 467.7 L343.7 467.7 L346.2 464.4 L351.1 465.2 L357.6 465.2 L360.0 455.4 L362.4 454.6 L366.5 459.5 L369.8 463.6 L373.9 466.9 L378.0 461.1 L381.2 465.2 L384.5 469.3 L388.6 467.7 L392.7 470.1 L396.7 472.6 L400.8 465.2 L404.9 470.1 L409.0 474.2 L413.1 476.7 L415.5 472.6 L418.8 475.8 L424.5 475.0 L431.0 478.3 L435.1 471.8 L438.4 466.9 L441.7 464.4 L444.1 465.2 L447.4 463.6 L451.5 460.3 L456.4 465.2 L460.4 463.6 L463.7 467.7 L466.2 464.4 L469.4 466.0 L472.7 458.7 L476.0 459.5 L479.2 462.8 L480.0 462.8 L482.4 448.9 L485.7 447.3 L489.8 451.3 L494.7 457.9 L499.6 462.0 L502.9 462.8 L505.3 455.4 L508.6 457.9 L511.8 447.3 L515.1 451.3 L518.4 448.1 L520.8 447.3 L523.3 425.2 L525.7 424.4 L528.2 434.2 L530.6 443.2 L533.9 447.3 L538.0 451.3 L542.1 446.4 L545.3 450.5 L548.6 455.4 L551.9 442.4 L555.1 444.0 L558.4 439.9 L560.8 447.3 L563.3 455.4 L567.4 460.3 L570.6 457.1 L573.1 457.9 L576.4 463.6 L581.3 466.9 L587.8 467.7 L592.7 469.3 L596.8 463.6 L600.0 465.2 L604.1 470.9 L607.3 473.4 L609.8 463.6 L612.2 462.0 L616.3 467.7 L621.2 470.9 L626.1 475.0 L628.6 473.1 L632.7 476.3 L637.6 474.5 L642.5 477.0 L647.4 479.4 L649.0 474.2 L651.0 474.5" fill="none" stroke="#3f6fe8" stroke-width="0.95" stroke-linejoin="round" stroke-linecap="round"/>
<path d="M6.5 452.2 L16.3 456.2 L26.1 455.4 L36.7 456.2 L40.8 452.2 L46.5 448.1 L52.3 455.4 L58.8 462.0 L65.3 457.1 L71.9 459.5 L78.4 456.2 L84.9 453.0 L89.8 452.2 L94.7 456.2 L101.3 460.3 L107.8 463.6 L114.3 467.7 L120.9 469.3 L127.4 465.2 L131.4 465.2 L136.3 468.5 L142.9 470.1 L149.4 474.2 L154.3 475.0 L157.6 466.9 L162.5 458.7 L167.4 448.9 L172.3 437.5 L177.2 429.3 L182.1 422.8 L187.0 419.2 L193.5 420.3 L198.4 419.5 L203.3 416.2 L209.8 409.4 L214.7 413.8 L218.0 421.9 L222.9 433.4 L227.8 440.7 L232.7 443.2 L237.6 444.0 L240.0 444.8 L246.5 448.9 L253.1 448.1 L259.6 455.4 L266.1 463.6 L272.7 466.9 L279.2 469.3 L285.7 470.1 L292.3 471.8 L298.8 471.8 L305.3 473.4 L310.2 475.0 L316.8 474.2 L323.3 472.6 L329.0 473.4 L333.9 465.2 L338.0 462.3 L342.9 462.3 L347.8 465.2 L354.3 470.1 L359.2 472.6 L360.0 472.6 L364.9 470.1 L369.8 471.8 L374.7 473.4 L379.6 475.0 L386.1 473.4 L392.7 473.4 L397.6 469.3 L402.5 470.1 L406.5 465.2 L410.6 458.7 L415.5 451.3 L420.4 446.4 L425.3 441.5 L430.2 437.8 L435.1 437.8 L440.0 442.4 L444.9 448.9 L449.8 454.6 L454.7 458.7 L459.6 462.8 L464.5 463.6 L469.4 466.9 L474.3 468.5 L479.2 467.7 L480.0 467.7 L484.9 462.0 L489.8 457.9 L494.7 457.9 L499.6 461.1 L504.5 461.1 L509.4 460.3 L514.3 456.2 L519.2 449.7 L523.3 441.5 L528.2 434.2 L533.1 438.3 L538.0 443.2 L542.9 447.3 L549.4 449.7 L554.3 446.4 L559.2 443.2 L564.1 448.1 L569.0 452.2 L573.9 455.4 L579.6 454.6 L586.2 453.8 L592.7 454.6 L597.6 456.2 L600.0 457.1 L603.3 454.6 L606.5 449.7 L609.8 448.1 L613.1 448.1 L618.0 445.6 L622.9 442.4 L627.8 438.3 L632.7 434.2 L637.6 431.7 L642.5 428.5 L647.4 425.2 L651.0 425.2" fill="none" stroke="#ea2a6a" stroke-width="0.95" stroke-linejoin="round" stroke-linecap="round"/>
<circle cx="650.8" cy="390.2" r="6.5" fill="#fff" stroke="#c21fd0" stroke-width="1.1"/>
<clipPath id="c1"><circle cx="655" cy="390.2" r="5.3"/></clipPath><circle cx="655" cy="390.2" r="6.5" fill="#fff" stroke="#ea3343" stroke-width="1.15"/><g clip-path="url(#c1)"><rect x="649" y="384.2" width="12" height="12" fill="#ffffff"/><rect x="649" y="385.80" width="12" height="1.2" fill="#ee4b57"/><rect x="649" y="389.30" width="12" height="1.8" fill="#ee4b57"/><rect x="649" y="392.90" width="12" height="2.1" fill="#ee4b57"/><rect x="649" y="384.2" width="7.3" height="7.4" fill="#4479e0"/><circle cx="651.6" cy="387.3" r="0.55" fill="#dfe8fb"/><circle cx="651.6" cy="389.6" r="0.55" fill="#dfe8fb"/><circle cx="654.0" cy="387.3" r="0.55" fill="#dfe8fb"/><circle cx="654.0" cy="389.6" r="0.55" fill="#dfe8fb"/></g>
<clipPath id="c2"><circle cx="700.3" cy="390.2" r="5.3"/></clipPath><circle cx="700.3" cy="390.2" r="6.5" fill="#fff" stroke="#ea3343" stroke-width="1.15"/><g clip-path="url(#c2)"><rect x="694.3" y="384.2" width="12" height="12" fill="#ffffff"/><rect x="694.3" y="385.80" width="12" height="1.2" fill="#ee4b57"/><rect x="694.3" y="389.30" width="12" height="1.8" fill="#ee4b57"/><rect x="694.3" y="392.90" width="12" height="2.1" fill="#ee4b57"/><rect x="694.3" y="384.2" width="7.3" height="7.4" fill="#4479e0"/><circle cx="696.9" cy="387.3" r="0.55" fill="#dfe8fb"/><circle cx="696.9" cy="389.6" r="0.55" fill="#dfe8fb"/><circle cx="699.3" cy="387.3" r="0.55" fill="#dfe8fb"/><circle cx="699.3" cy="389.6" r="0.55" fill="#dfe8fb"/></g>
<text x="742.2" y="396.3" font-size="8.95" fill="#131722" text-anchor="start" font-weight="normal" font-family="'Liberation Sans', Arial, sans-serif" >95,000.00</text>
<text x="742.2" y="371.7" font-size="8.95" fill="#131722" text-anchor="start" font-weight="normal" font-family="'Liberation Sans', Arial, sans-serif" >97,500.00</text>
<text x="742.2" y="347.1" font-size="8.95" fill="#131722" text-anchor="start" font-weight="normal" font-family="'Liberation Sans', Arial, sans-serif" >100,000.00</text>
<text x="742.2" y="322.5" font-size="8.95" fill="#131722" text-anchor="start" font-weight="normal" font-family="'Liberation Sans', Arial, sans-serif" >102,500.00</text>
<text x="742.2" y="297.9" font-size="8.95" fill="#131722" text-anchor="start" font-weight="normal" font-family="'Liberation Sans', Arial, sans-serif" >105,000.00</text>
<text x="742.2" y="273.3" font-size="8.95" fill="#131722" text-anchor="start" font-weight="normal" font-family="'Liberation Sans', Arial, sans-serif" >107,500.00</text>
<text x="742.2" y="248.7" font-size="8.95" fill="#131722" text-anchor="start" font-weight="normal" font-family="'Liberation Sans', Arial, sans-serif" >110,000.00</text>
<text x="742.2" y="224.1" font-size="8.95" fill="#131722" text-anchor="start" font-weight="normal" font-family="'Liberation Sans', Arial, sans-serif" >112,500.00</text>
<text x="742.2" y="199.5" font-size="8.95" fill="#131722" text-anchor="start" font-weight="normal" font-family="'Liberation Sans', Arial, sans-serif" >115,000.00</text>
<text x="742.2" y="174.9" font-size="8.95" fill="#131722" text-anchor="start" font-weight="normal" font-family="'Liberation Sans', Arial, sans-serif" >117,500.00</text>
<text x="742.2" y="150.3" font-size="8.95" fill="#131722" text-anchor="start" font-weight="normal" font-family="'Liberation Sans', Arial, sans-serif" >120,000.00</text>
<text x="742.2" y="125.7" font-size="8.95" fill="#131722" text-anchor="start" font-weight="normal" font-family="'Liberation Sans', Arial, sans-serif" >122,500.00</text>
<text x="742.2" y="101.1" font-size="8.95" fill="#131722" text-anchor="start" font-weight="normal" font-family="'Liberation Sans', Arial, sans-serif" >125,000.00</text>
<text x="742.2" y="76.5" font-size="8.95" fill="#131722" text-anchor="start" font-weight="normal" font-family="'Liberation Sans', Arial, sans-serif" >127,500.00</text>
<text x="742.2" y="51.9" font-size="8.95" fill="#131722" text-anchor="start" font-weight="normal" font-family="'Liberation Sans', Arial, sans-serif" >130,000.00</text>
<text x="742.2" y="27.3" font-size="8.95" fill="#131722" text-anchor="start" font-weight="normal" font-family="'Liberation Sans', Arial, sans-serif" >132,500.00</text>
<clipPath id="dm"><rect x="736" y="399.8" width="60" height="90"/></clipPath>
<g clip-path="url(#dm)">
<text x="742.2" y="463.7" font-size="8.95" fill="#131722" text-anchor="start" font-weight="normal" font-family="'Liberation Sans', Arial, sans-serif" >20.0000</text>
<text x="742.2" y="433.8" font-size="8.95" fill="#131722" text-anchor="start" font-weight="normal" font-family="'Liberation Sans', Arial, sans-serif" >40.0000</text>
<text x="742.2" y="404.0" font-size="8.95" fill="#131722" text-anchor="start" font-weight="normal" font-family="'Liberation Sans', Arial, sans-serif" >60.0000</text>
</g>
<rect x="736" y="147.7" width="54" height="11.1" rx="1" fill="#4caf50"/>
<text x="742.4" y="156.3" font-size="9.0" fill="#fff" text-anchor="start" font-weight="normal" font-family="'Liberation Sans', Arial, sans-serif" >119,444.14</text>
<rect x="736" y="186.3" width="54" height="11.4" rx="1" fill="#f23645"/>
<text x="742.4" y="195.0" font-size="9.0" fill="#fff" text-anchor="start" font-weight="normal" font-family="'Liberation Sans', Arial, sans-serif" >115,528.35</text>
<rect x="736" y="212" width="54" height="21" rx="1" fill="#0f9d86"/>
<text x="742.4" y="220.1" font-size="9.0" fill="#fff" text-anchor="start" font-weight="normal" font-family="'Liberation Sans', Arial, sans-serif" >112,934.12</text>
<text x="742.4" y="229.7" font-size="9.0" fill="#c4ebe3" text-anchor="start" font-weight="normal" font-family="'Liberation Sans', Arial, sans-serif" >02:28:53</text>
<rect x="736" y="232.6" width="54" height="10.9" rx="0" fill="#0a5f57"/>
<text x="742.4" y="240.7" font-size="9.0" fill="#fff" text-anchor="start" font-weight="normal" font-family="'Liberation Sans', Arial, sans-serif" >111,982.12</text>
<rect x="736" y="420" width="41.8" height="10.6" rx="1" fill="#e91e63"/>
<text x="742.4" y="428.3" font-size="9.0" fill="#fff" text-anchor="start" font-weight="normal" font-family="'Liberation Sans', Arial, sans-serif" >43.9742</text>
<rect x="736" y="444" width="41.8" height="10.2" rx="1" fill="#f57c1f"/>
<text x="742.4" y="452.2" font-size="9.0" fill="#fff" text-anchor="start" font-weight="normal" font-family="'Liberation Sans', Arial, sans-serif" >28.2639</text>
<rect x="736" y="469.5" width="41.8" height="10.2" rx="1" fill="#2962ff"/>
<text x="742.4" y="477.7" font-size="9.0" fill="#fff" text-anchor="start" font-weight="normal" font-family="'Liberation Sans', Arial, sans-serif" >11.4855</text>
<text x="57.6" y="504.9" font-size="8.95" fill="#131722" text-anchor="middle" font-weight="bold" font-family="'Liberation Sans', Arial, sans-serif" >Jul</text>
<text x="103" y="504.9" font-size="8.95" fill="#131722" text-anchor="middle" font-weight="normal" font-family="'Liberation Sans', Arial, sans-serif" >5</text>
<text x="148.4" y="504.9" font-size="8.95" fill="#131722" text-anchor="middle" font-weight="normal" font-family="'Liberation Sans', Arial, sans-serif" >9</text>
<text x="194" y="504.9" font-size="8.95" fill="#131722" text-anchor="middle" font-weight="normal" font-family="'Liberation Sans', Arial, sans-serif" >13</text>
<text x="239.5" y="504.9" font-size="8.95" fill="#131722" text-anchor="middle" font-weight="normal" font-family="'Liberation Sans', Arial, sans-serif" >17</text>
<text x="285" y="504.9" font-size="8.95" fill="#131722" text-anchor="middle" font-weight="normal" font-family="'Liberation Sans', Arial, sans-serif" >21</text>
<text x="330.5" y="504.9" font-size="8.95" fill="#131722" text-anchor="middle" font-weight="normal" font-family="'Liberation Sans', Arial, sans-serif" >25</text>
<text x="410.4" y="504.9" font-size="8.95" fill="#131722" text-anchor="middle" font-weight="bold" font-family="'Liberation Sans', Arial, sans-serif" >Aug</text>
<text x="456" y="504.9" font-size="8.95" fill="#131722" text-anchor="middle" font-weight="normal" font-family="'Liberation Sans', Arial, sans-serif" >5</text>
<text x="501.3" y="504.9" font-size="8.95" fill="#131722" text-anchor="middle" font-weight="normal" font-family="'Liberation Sans', Arial, sans-serif" >9</text>
<text x="546.8" y="504.9" font-size="8.95" fill="#131722" text-anchor="middle" font-weight="normal" font-family="'Liberation Sans', Arial, sans-serif" >13</text>
<text x="592.3" y="504.9" font-size="8.95" fill="#131722" text-anchor="middle" font-weight="normal" font-family="'Liberation Sans', Arial, sans-serif" >17</text>
<text x="637.8" y="504.9" font-size="8.95" fill="#131722" text-anchor="middle" font-weight="normal" font-family="'Liberation Sans', Arial, sans-serif" >21</text>
<text x="683.3" y="504.9" font-size="8.95" fill="#131722" text-anchor="middle" font-weight="normal" font-family="'Liberation Sans', Arial, sans-serif" >25</text>
<text x="6.5" y="13.7" font-size="9.3" fill="#1a1a1a" font-weight="normal" textLength="276.0" lengthAdjust="spacingAndGlyphs" font-family="'Liberation Sans', Arial, sans-serif">ChartAnalysis_4 created with TradingView.com, Aug 22, 2025 05:31 UTC</text>
<text x="12.3" y="32.0" font-size="8.85" fill="#131722" font-weight="normal" textLength="131.6" lengthAdjust="spacingAndGlyphs" font-family="'Liberation Sans', Arial, sans-serif">Bitcoin / U.S. Dollar · 4h · BINANCE</text>
<text x="149.8" y="32.0" font-size="8.85" fill="#131722" font-weight="normal" textLength="5.2" lengthAdjust="spacingAndGlyphs" font-family="'Liberation Sans', Arial, sans-serif">O</text>
<text x="155.4" y="32.0" font-size="8.85" fill="#1aa08a" font-weight="normal" textLength="39.0" lengthAdjust="spacingAndGlyphs" font-family="'Liberation Sans', Arial, sans-serif">112,870.41</text>
<text x="200" y="32.0" font-size="8.85" fill="#131722" font-weight="normal" textLength="4.6" lengthAdjust="spacingAndGlyphs" font-family="'Liberation Sans', Arial, sans-serif">H</text>
<text x="205.2" y="32.0" font-size="8.85" fill="#1aa08a" font-weight="normal" textLength="41.1" lengthAdjust="spacingAndGlyphs" font-family="'Liberation Sans', Arial, sans-serif">113,200.29</text>
<text x="252.1" y="32.0" font-size="8.85" fill="#131722" font-weight="normal" textLength="3.3" lengthAdjust="spacingAndGlyphs" font-family="'Liberation Sans', Arial, sans-serif">L</text>
<text x="255.9" y="32.0" font-size="8.85" fill="#1aa08a" font-weight="normal" textLength="40.6" lengthAdjust="spacingAndGlyphs" font-family="'Liberation Sans', Arial, sans-serif">112,659.27</text>
<text x="302.1" y="32.0" font-size="8.85" fill="#131722" font-weight="normal" textLength="4.9" lengthAdjust="spacingAndGlyphs" font-family="'Liberation Sans', Arial, sans-serif">C</text>
<text x="307.6" y="32.0" font-size="8.85" fill="#1aa08a" font-weight="normal" textLength="39.0" lengthAdjust="spacingAndGlyphs" font-family="'Liberation Sans', Arial, sans-serif">112,934.12</text>
<text x="352.8" y="32.0" font-size="8.85" fill="#1aa08a" font-weight="normal" textLength="25.7" lengthAdjust="spacingAndGlyphs" font-family="'Liberation Sans', Arial, sans-serif">+68.59</text>
<text x="382.2" y="32.0" font-size="8.85" fill="#1aa08a" font-weight="normal" textLength="33.8" lengthAdjust="spacingAndGlyphs" font-family="'Liberation Sans', Arial, sans-serif">(+0.06%)</text>
<text x="12.3" y="43.4" font-size="8.85" fill="#131722" font-weight="normal" textLength="68.7" lengthAdjust="spacingAndGlyphs" font-family="'Liberation Sans', Arial, sans-serif">Supertrend (10, 3)</text>
<text x="85.8" y="42.7" font-size="6.6" fill="#3a3e49" text-anchor="start" font-weight="normal" font-family="'Liberation Sans', Arial, sans-serif" >∅</text>
<text x="96.6" y="43.4" font-size="8.85" fill="#e0485c" font-weight="normal" textLength="40.9" lengthAdjust="spacingAndGlyphs" font-family="'Liberation Sans', Arial, sans-serif">115,528.35</text>
<text x="12.3" y="413.9" font-size="8.85" fill="#131722" font-weight="normal" textLength="44.9" lengthAdjust="spacingAndGlyphs" font-family="'Liberation Sans', Arial, sans-serif">DMI (14, 14)</text>
<text x="62.9" y="413.9" font-size="8.85" fill="#e91e63" font-weight="normal" textLength="30.2" lengthAdjust="spacingAndGlyphs" font-family="'Liberation Sans', Arial, sans-serif">43.9742</text>
<text x="98.8" y="413.9" font-size="8.85" fill="#2962ff" font-weight="normal" textLength="27.8" lengthAdjust="spacingAndGlyphs" font-family="'Liberation Sans', Arial, sans-serif">11.4855</text>
<text x="132.7" y="413.9" font-size="8.85" fill="#f57c1f" font-weight="normal" textLength="31.4" lengthAdjust="spacingAndGlyphs" font-family="'Liberation Sans', Arial, sans-serif">28.2639</text>
<g fill="#131722"><path d="M8 526h7.6v9.4h-3.8v-5.6H8z"/><circle cx="18.6" cy="527.9" r="1.9"/><path d="M22.6 526h4.8l-3.9 9.4h-4.7z"/></g>
<text x="33.6" y="535.4" font-size="14.2" font-weight="bold" fill="#0c0e15" stroke="#0c0e15" stroke-width="0.25" font-family="'Liberation Sans', Arial, sans-serif" id="lg" textLength="79.6" lengthAdjust="spacingAndGlyphs">TradingView</text>
</svg>
</body></html>
